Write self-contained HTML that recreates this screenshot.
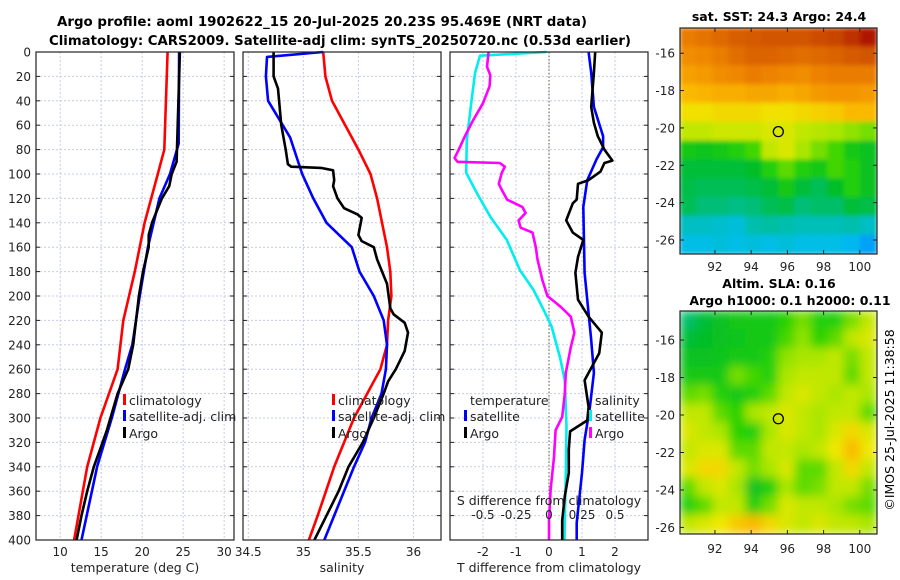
<!DOCTYPE html>
<html><head><meta charset="utf-8"><title>Argo profile</title>
<style>
html,body{margin:0;padding:0;background:#fff;}
svg{display:block;font-family:"DejaVu Sans","Liberation Sans",sans-serif;}
</style></head>
<body>
<svg id="chart" width="900" height="580" viewBox="0 0 900 580" xmlns="http://www.w3.org/2000/svg">
<defs>
<filter id="blur1" x="0" y="0" width="1" height="1"><feGaussianBlur stdDeviation="2.5"/></filter>
<filter id="blur2" x="0" y="0" width="1" height="1"><feGaussianBlur stdDeviation="5"/></filter>
<clipPath id="clipM1"><rect x="680" y="28" width="197" height="226"/></clipPath>
<clipPath id="clipM2"><rect x="680" y="311" width="197" height="223"/></clipPath>
</defs>
<text x="322" y="26" text-anchor="middle" font-weight="bold" font-size="13" textLength="530" lengthAdjust="spacingAndGlyphs">Argo profile: aoml 1902622_15 20-Jul-2025 20.23S 95.469E (NRT data)</text>
<text x="340" y="45" text-anchor="middle" font-weight="bold" font-size="13" textLength="582" lengthAdjust="spacingAndGlyphs">Climatology: CARS2009. Satellite-adj clim: synTS_20250720.nc (0.53d earlier)</text>
<text x="779" y="21" text-anchor="middle" font-weight="bold" font-size="12.5">sat. SST: 24.3 Argo: 24.4</text>
<text x="779" y="288" text-anchor="middle" font-weight="bold" font-size="12.5">Altim. SLA: 0.16</text>
<text x="790" y="305" text-anchor="middle" font-weight="bold" font-size="12.5">Argo h1000: 0.1 h2000: 0.11</text>
<text transform="translate(894,420) rotate(-90)" text-anchor="middle" font-size="12.5">©IMOS 25-Jul-2025 11:38:58</text>
<g id="g"></g>
</svg>
<script>
// ---- profile data (depth in m) ----
const tClimDepth = [0,80,100,140,180,220,260,300,340,400];
const tClimVal   = [23.1,22.7,21.9,20.3,19.1,17.7,17.0,14.9,13.3,11.7];
const tSatDepth  = [0,75,100,120,160,200,240,260,300,340,400];
const tSatVal    = [24.5,24.45,23.4,22.1,20.7,19.7,18.8,17.9,16.3,14.5,12.6];
const tArgoDepth = [0,90,100,110,120,140,150,160,180,200,240,260,280,310,325,340,360,380,400];
const tArgoVal   = [24.6,24.2,23.6,23.3,22.4,21.2,20.8,20.8,20.1,19.6,18.9,18.3,17.0,15.7,14.9,14.1,13.3,12.6,12.0];

const sClimDepth = [0,20,40,60,80,100,120,160,180,200,220,240,260,280,300,340,380,400];
const sClimVal   = [35.18,35.20,35.26,35.38,35.50,35.61,35.67,35.76,35.79,35.80,35.77,35.76,35.70,35.58,35.46,35.28,35.13,35.05];
const sSatDepth  = [0,4,20,40,70,100,120,140,160,180,200,220,240,260,280,300,320,340,380,400];
const sSatVal    = [35.18,34.67,34.66,34.68,34.88,34.99,35.09,35.21,35.44,35.51,35.64,35.73,35.76,35.75,35.71,35.62,35.56,35.46,35.28,35.19];
const sArgoDepth = [0,20,30,60,80,92,94,95,97,105,110,120,128,133,136,150,155,160,170,190,210,215,222,230,245,260,270,280,300,320,340,360,380,400];
const sArgoVal   = [34.73,34.73,34.77,34.80,34.84,34.86,34.89,35.16,35.27,35.28,35.27,35.31,35.37,35.49,35.53,35.50,35.53,35.64,35.67,35.76,35.79,35.82,35.92,35.95,35.92,35.84,35.77,35.73,35.64,35.54,35.41,35.32,35.21,35.10];

const dTSatDepth = [0,3,17,38,72,99,116,135,154,179,195,211,225,250,269,307,345,384,400];
const dTSatVal   = [-0.07,-2.09,-2.24,-2.34,-2.49,-2.51,-2.18,-1.78,-1.28,-0.88,-0.47,-0.17,0.08,0.33,0.48,0.53,0.51,0.48,0.47];
const dTArgoDepth = [0,12,19,28,42,56,69,78,87,90,91,94,99,108,113,121,127,132,138,144,148,160,170,187,200,209,217,230,242,263,280,299,310,332,359,384,400];
const dTArgoVal   = [-1.83,-1.88,-1.78,-1.8,-2.0,-2.3,-2.55,-2.7,-2.86,-2.77,-1.49,-1.34,-1.43,-1.52,-1.43,-1.27,-0.81,-0.71,-0.92,-0.86,-0.5,-0.40,-0.35,-0.2,-0.05,0.36,0.66,0.77,0.66,0.51,0.48,0.4,0.2,0.15,0.05,0.0,0.0];
const dSSatDepth = [0,17,45,69,78,88,105,127,181,236,263,291,318,345,386,400];
const dSSatVal   = [0.30,0.32,0.34,0.41,0.41,0.36,0.29,0.26,0.27,0.32,0.34,0.31,0.27,0.25,0.21,0.21];
const dSArgoDepth = [0,17,45,58,69,80,89,91,98,105,108,121,124,138,148,154,168,181,203,217,230,247,269,291,302,311,326,345,364,384,400];
const dSArgoVal   = [0.35,0.34,0.32,0.34,0.37,0.42,0.48,0.42,0.39,0.30,0.22,0.21,0.18,0.13,0.18,0.26,0.22,0.20,0.22,0.30,0.40,0.38,0.27,0.30,0.29,0.16,0.15,0.15,0.12,0.10,0.10];

const depthTicks = [0,20,40,60,80,100,120,140,160,180,200,220,240,260,280,300,320,340,360,380,400];
const tTicks = [10,15,20,25,30];
const sTicks = [34.5,35,35.5,36];
const dTTicks = [-2,-1,0,1,2];
const dSTicks = [-0.5,-0.25,0,0.25,0.5];
const dSTickLabels = ["-0.5","-0.25","0","0.25","0.5"];

// ---- map data (normalised colour index 0..1, rows north->south) ----
const sstGrid = [
[0.80,0.82,0.84,0.86,0.87,0.88,0.88,0.88,0.89,0.9,0.92,0.95],
[0.77,0.78,0.8,0.83,0.85,0.85,0.84,0.83,0.84,0.85,0.87,0.88],
[0.74,0.75,0.77,0.78,0.8,0.79,0.78,0.77,0.79,0.8,0.8,0.8],
[0.7,0.71,0.72,0.72,0.73,0.73,0.72,0.73,0.75,0.76,0.76,0.75],
[0.65,0.65,0.66,0.66,0.66,0.65,0.65,0.66,0.67,0.68,0.7,0.7],
[0.6,0.6,0.61,0.61,0.61,0.62,0.62,0.6,0.59,0.58,0.57,0.56],
[0.5,0.49,0.5,0.52,0.54,0.6,0.62,0.58,0.56,0.54,0.5,0.48],
[0.46,0.46,0.46,0.46,0.47,0.52,0.55,0.52,0.5,0.54,0.52,0.48],
[0.45,0.44,0.44,0.44,0.45,0.46,0.5,0.46,0.44,0.47,0.52,0.48],
[0.44,0.42,0.42,0.41,0.42,0.44,0.45,0.42,0.43,0.43,0.46,0.45],
[0.36,0.36,0.35,0.34,0.38,0.39,0.38,0.37,0.37,0.37,0.38,0.36],
[0.33,0.33,0.34,0.33,0.34,0.33,0.34,0.33,0.33,0.33,0.31,0.27]];
const slaGrid = [
[0.43,0.46,0.48,0.5,0.5,0.5,0.53,0.56,0.52,0.52,0.56,0.6],
[0.46,0.47,0.48,0.49,0.5,0.5,0.54,0.57,0.53,0.55,0.6,0.62],
[0.48,0.48,0.49,0.5,0.5,0.52,0.57,0.58,0.58,0.6,0.56,0.6],
[0.5,0.5,0.5,0.56,0.54,0.52,0.58,0.6,0.6,0.6,0.55,0.6],
[0.55,0.56,0.52,0.5,0.52,0.55,0.6,0.62,0.6,0.58,0.6,0.58],
[0.6,0.6,0.55,0.53,0.58,0.6,0.62,0.6,0.58,0.6,0.6,0.55],
[0.62,0.6,0.58,0.53,0.52,0.58,0.62,0.6,0.58,0.62,0.66,0.62],
[0.6,0.62,0.62,0.55,0.55,0.6,0.6,0.58,0.6,0.64,0.7,0.64],
[0.62,0.66,0.66,0.6,0.56,0.58,0.62,0.55,0.55,0.6,0.66,0.6],
[0.55,0.6,0.62,0.58,0.48,0.52,0.58,0.55,0.56,0.6,0.6,0.56],
[0.52,0.55,0.6,0.6,0.52,0.56,0.62,0.6,0.6,0.58,0.56,0.55],
[0.6,0.62,0.64,0.68,0.7,0.66,0.62,0.6,0.62,0.6,0.6,0.58]];
const lonTicks = [92,94,96,98,100];
const latTicks = [-16,-18,-20,-22,-24,-26];
const argoPos = [95.5,-20.2];

const NS = "http://www.w3.org/2000/svg";
const G = document.getElementById("g");
function mk(tag, attrs, parent){
  const e = document.createElementNS(NS, tag);
  for (const k in attrs) e.setAttribute(k, attrs[k]);
  (parent||G).appendChild(e);
  return e;
}
const PT = 52, PB = 540;
const yD = d => PT + d*(PB-PT)/400;
function lin(d0,d1,r0,r1){ return v => r0 + (v-d0)*(r1-r0)/(d1-d0); }
const xT  = lin(7.05,31.2,36,234);
const xS  = lin(34.452,36.25,243,441);
const xDT = lin(-3,3,450,648);
const xDS = lin(-0.75,0.75,450,648);

function panel(x0, x1, name, xs, ticks, labels, xlabel){
  const grp = mk("g", {});
  
  
  depthTicks.forEach(d => {
    const l = mk("line", {x1:x0,x2:x1,y1:yD(d),y2:yD(d),stroke:"#c6cbe6","stroke-width":1,"stroke-dasharray":"2,2"}, grp);
    
    
    mk("line", {x1:x0,x2:x0+4,y1:yD(d),y2:yD(d),stroke:"#222"}, grp);
    mk("line", {x1:x1-4,x2:x1,y1:yD(d),y2:yD(d),stroke:"#222"}, grp);
  });
  ticks.forEach((t,i) => {
    const x = xs(t);
    const l = mk("line", {x1:x,x2:x,y1:PT,y2:PB,stroke:"#c6cbe6","stroke-width":1,"stroke-dasharray":"2,2"}, grp);
    
    
    const tl = mk("text", {x:x,y:556,"text-anchor":"middle","font-size":12,fill:"#222"}, grp);
    tl.textContent = labels[i];
    
    
  });
  const xl = mk("text", {x:(x0+x1)/2,y:572,"text-anchor":"middle","font-size":12.5,fill:"#222"}, grp);
  xl.textContent = xlabel;
  
  
  return grp;
}
function frame(x0,x1){
  const r = mk("rect", {x:x0,y:PT,width:x1-x0,height:PB-PT,fill:"none",stroke:"#222","stroke-width":1.2});
  
  
}
function line(depths, vals, xs, color, name, w){
  const pts = depths.map((d,i) => xs(vals[i]).toFixed(1)+","+yD(d).toFixed(1)).join(" ");
  const p = mk("polyline", {points:pts,fill:"none",stroke:color,"stroke-width":w||2.6,"stroke-linejoin":"round"});
  
  
}
function legend(x, y, color, text, name){
  const m = mk("rect", {x:x-6,y:y-11,width:3,height:11,fill:color});
  
  
  const t = mk("text", {x:x,y:y,"font-size":12.5,fill:"#222"});
  t.textContent = text;
  
  
}

panel(36,234,"temperature-panel",xT,tTicks,tTicks.map(String),"temperature (deg C)");
panel(243,441,"salinity-panel",xS,sTicks,sTicks.map(String),"salinity");
panel(450,648,"difference-panel",xDT,dTTicks,dTTicks.map(String),"T difference from climatology");

depthTicks.forEach(d => {
  const t = mk("text", {x:31,y:yD(d)+4.5,"text-anchor":"end","font-size":12,fill:"#222"});
  t.textContent = String(d);
  
  
});
const zl = mk("line", {x1:xDT(0),x2:xDT(0),y1:PT,y2:PB,stroke:"#6b5a3a","stroke-width":1,"stroke-dasharray":"1.5,2"});



line(tClimDepth,tClimVal,xT,"#ff0000","temp-climatology-line");
line(tSatDepth,tSatVal,xT,"#0000ff","temp-satellite-line");
line(tArgoDepth,tArgoVal,xT,"#000000","temp-argo-line");
line(sClimDepth,sClimVal,xS,"#ff0000","sal-climatology-line");
line(sSatDepth,sSatVal,xS,"#0000ff","sal-satellite-line");
line(sArgoDepth,sArgoVal,xS,"#000000","sal-argo-line");
line(dTSatDepth,dTSatVal,xDT,"#00eeee","tdiff-satellite-line");
line(dTArgoDepth,dTArgoVal,xDT,"#ff00ff","tdiff-argo-line");
line(dSSatDepth,dSSatVal,xDS,"#0000ff","sdiff-satellite-line");
line(dSArgoDepth,dSArgoVal,xDS,"#000000","sdiff-argo-line");

frame(36,234); frame(243,441); frame(450,648);

legend(129,405,"#ff0000","climatology","legend-temp-climatology");
legend(129,421,"#0000ff","satellite-adj. clim","legend-temp-satellite");
legend(129,438,"#000000","Argo","legend-temp-argo");
legend(338,405,"#ff0000","climatology","legend-sal-climatology");
legend(338,421,"#0000ff","satellite-adj. clim","legend-sal-satellite");
legend(338,438,"#000000","Argo","legend-sal-argo");
const lt = mk("text", {x:470,y:405,"font-size":12.5,fill:"#222"}); lt.textContent="temperature";


legend(470,421,"#0000ff","satellite","legend-diff-temp-satellite");
legend(470,438,"#000000","Argo","legend-diff-temp-argo");
const ls = mk("text", {x:595,y:405,"font-size":12.5,fill:"#222"}); ls.textContent="salinity";


legend(595,421,"#00eeee","satellite","legend-diff-sal-satellite");
legend(595,438,"#ff00ff","Argo","legend-diff-sal-argo");

const st = mk("text", {x:549,y:505,"text-anchor":"middle","font-size":12.5,fill:"#222"}); st.textContent="S difference from climatology";


dSTicks.forEach((v,i) => {
  const t = mk("text", {x:xDS(v),y:519,"text-anchor":"middle","font-size":12,fill:"#222"});
  t.textContent = dSTickLabels[i];
  
  
});

// ---- maps ----
const cmapStops = [
 [0.0,[0,60,255]],[0.2,[0,120,255]],[0.32,[0,190,240]],[0.4,[0,190,150]],
 [0.47,[0,190,40]],[0.53,[40,210,0]],[0.58,[170,230,0]],[0.64,[240,232,0]],
 [0.7,[250,185,0]],[0.78,[240,135,0]],[0.88,[210,85,0]],[0.95,[175,25,0]],[1.0,[140,0,0]]];
function cmap(v){
  v = Math.max(0,Math.min(1,v));
  for (let i=1;i<cmapStops.length;i++){
    const a = cmapStops[i-1], b = cmapStops[i];
    if (v <= b[0]) {
      const t = (v-a[0])/(b[0]-a[0]);
      const c = a[1].map((x,k)=>Math.round(x+(b[1][k]-x)*t));
      return "rgb("+c.join(",")+")";
    }
  }
  return "rgb(140,0,0)";
}
function map(grid, x0, y0, w, h, latTop, latBot, name, clip, filt, labelY){
  const lonL = 90.07, lonR = 100.95;
  const xm = lin(lonL,lonR,x0,x0+w), ym = lin(latTop,latBot,y0,y0+h);
  const grp = mk("g", {"clip-path":"url(#"+clip+")"});
  
  
  const inner = mk("g", {filter:"url(#"+filt+")"}, grp);
  const nr = grid.length, nc = grid[0].length;
  const cw = w/nc, ch = h/nr;
  mk("rect",{x:x0,y:y0,width:w,height:h,fill:cmap(grid[0][0])},inner);
  grid.forEach((row,ri) => row.forEach((v,ci) => {
    const c = mk("rect", {x:x0+ci*cw-0.5,y:y0+ri*ch-0.5,width:cw+1,height:ch+1,fill:cmap(v)}, inner);
    
    
  }));
  const f = mk("rect", {x:x0,y:y0,width:w,height:h,fill:"none",stroke:"#222","stroke-width":1.2});
  
  
  latTicks.forEach(lat => {
    const y = ym(lat);
    mk("line",{x1:x0,x2:x0+4,y1:y,y2:y,stroke:"#222"});
    mk("line",{x1:x0+w-4,x2:x0+w,y1:y,y2:y,stroke:"#222"});
    const t = mk("text",{x:x0-5,y:y+4.5,"text-anchor":"end","font-size":12,fill:"#222"});
    t.textContent = String(lat);
    
    
  });
  lonTicks.forEach(lon => {
    const x = xm(lon);
    mk("line",{x1:x,x2:x,y1:y0+h-4,y2:y0+h,stroke:"#222"});
    mk("line",{x1:x,x2:x,y1:y0,y2:y0+4,stroke:"#222"});
    const t = mk("text",{x:x,y:labelY,"text-anchor":"middle","font-size":12,fill:"#222"});
    t.textContent = String(lon);
    
    
  });
  const ci = mk("circle",{cx:xm(argoPos[0]),cy:ym(argoPos[1]),r:5,fill:"none",stroke:"#000","stroke-width":1.3});
  
  
}
map(sstGrid,680,28,197,226,-14.65,-26.75,"sst-map","clipM1","blur1",271);
map(slaGrid,680,311,197,223,-14.45,-26.35,"sla-map","clipM2","blur2",553);
</script>
</body></html>
